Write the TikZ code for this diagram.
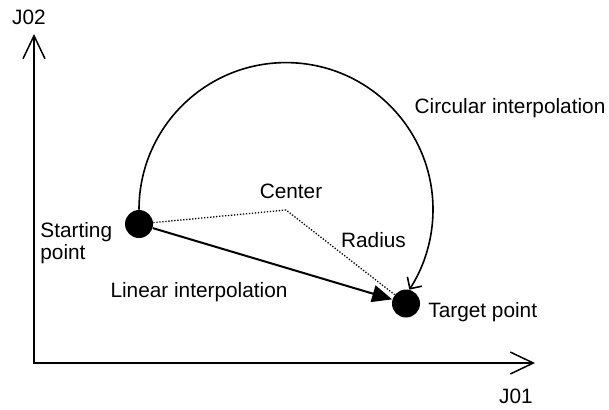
\documentclass[tikz,border=0pt]{standalone}
\usepackage{fontspec}
\setmainfont{Liberation Sans}
\usetikzlibrary{arrows.meta}

\begin{document}
\begin{tikzpicture}[x=0.5pt,y=0.5pt,font=\fontsize{10.4}{11}\selectfont,
  dot/.style={circle,fill=black,inner sep=0pt,minimum size=14pt},
  lbl/.style={inner sep=0pt,anchor=base},
  axis/.style={line width=0.75pt,{Straight Barb[length=11.5pt,width=11pt]}-{Straight Barb[length=11.5pt,width=11pt]}},
  dotline/.style={line width=0.65pt,dash pattern=on 0.65pt off 0.85pt},
  linarrow/.style={line width=1pt,-{Triangle[length=10pt,width=8.5pt]}},
  circarrow/.style={line width=0.8pt,-{Straight Barb[length=4.3pt,width=8.6pt]}}]
  \useasboundingbox (0,0) rectangle (609,409);
  % axes
  \coordinate (orig) at (34,46);
  \coordinate (j1end) at (535,46);
  \coordinate (j2end) at (34,375);
  \draw[axis] (j2end) -- (orig) -- (j1end);
  \node[lbl] (j02) at (29,385) {J02};
  \node[lbl] (j01) at (516,6) {J01};
  % points
  \node[dot] (start) at (139,185) {};
  \node[dot] (target) at (406,105.5) {};
  \coordinate (center) at (286,199);
  \draw[dotline] (start) -- (center) -- (target);
  \draw[linarrow] (start) -- (target);
  \draw[circarrow] (start.north) arc[start angle=180,end angle=-33,radius=147];
  % labels
  \node[lbl] (circlbl) at (510,296) {Circular interpolation};
  \node[lbl,anchor=base west] (tgtlbl) at (428,92) {Target point};
  \node[lbl] (linlbl) at (199,112) {Linear interpolation};
  \node[lbl] (radlbl) at (373.5,162) {Radius};
  \node[lbl] (ctrlbl) at (291,211) {Center};
  \node[lbl,anchor=base west,align=left] (startlbl) at (40,150) {Starting\\point};
\end{tikzpicture}
\end{document}
